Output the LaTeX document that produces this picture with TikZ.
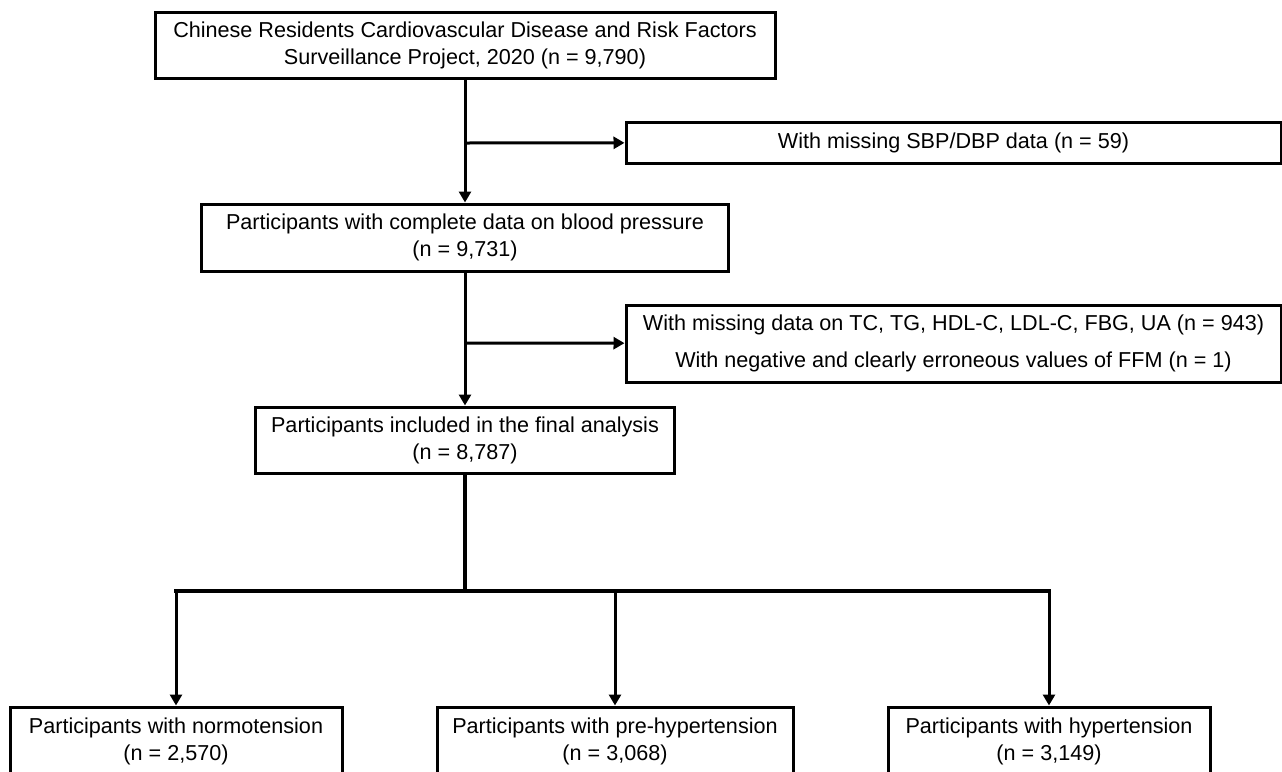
\documentclass[tikz,border=0pt]{standalone}
\usepackage{fontspec}
\setmainfont{Liberation Sans}
\usetikzlibrary{arrows.meta}

\tikzset{
  box/.style={draw, line width=1.5pt, align=center, inner sep=0pt,
    font=\fontsize{10.8}{13.5}\selectfont},
  flow/.style={line width=1.5pt, -{Triangle[length=5.5pt,width=6pt]}},
  trunk/.style={line width=2pt, line cap=rect},
}

\begin{document}
\begin{tikzpicture}[x=0.5pt,y=-0.5pt]
  \useasboundingbox (0,0) rectangle (1282,772);
  % main column
  \node[box, minimum width=310pt, minimum height=33pt] (src) at (465,45)
    {Chinese Residents Cardiovascular Disease and Risk Factors\\
     Surveillance Project, 2020 (n = 9,790)};
  \node[box, minimum width=263.5pt, minimum height=33.5pt] (bp) at (465,237.5)
    {Participants with complete data on blood pressure\\(n = 9,731)};
  \node[box, minimum width=209.5pt, minimum height=33pt] (final) at (465,440)
    {Participants included in the final analysis\\(n = 8,787)};
  % exclusions
  \node[box, minimum width=327.5pt, minimum height=20.5pt] (miss1) at (953.5,142.5)
    {With missing SBP/DBP data (n = 59)};
  \node[box, minimum width=327.5pt, minimum height=38.5pt] (miss2) at (953.5,343.5)
    {With missing data on TC, TG, HDL-C, LDL-C, FBG, UA (n = 943)\\[5pt]
     With negative and clearly erroneous values of FFM (n = 1)};
  % groups
  \node[box, minimum width=166pt, minimum height=34pt] (norm) at (176,741)
    {Participants with normotension\\(n = 2,570)};
  \node[box, minimum width=178pt, minimum height=34pt] (prehyp) at (615,741)
    {Participants with pre-hypertension\\(n = 3,068)};
  \node[box, minimum width=161pt, minimum height=34pt] (hyp) at (1049,741)
    {Participants with hypertension\\(n = 3,149)};

  \coordinate (b1) at (465,143);
  \coordinate (b2) at (465,343);
  \coordinate (bar) at (465,591);
  \coordinate (barL) at (176,591);
  \coordinate (barR) at (1049,591);

  \draw[flow] (src) -- (bp);
  \draw[flow] (b1) -- (miss1);
  \draw[flow] (bp) -- (final);
  \draw[flow] (b2) -- (miss2);
  \draw[trunk] (final) -- (bar);
  \draw[trunk] (barL) -- (barR);
  \draw[flow] (barL) -- (norm);
  \draw[flow] (prehyp |- bar) -- (prehyp);
  \draw[flow] (barR) -- (hyp);
\end{tikzpicture}
\end{document}
